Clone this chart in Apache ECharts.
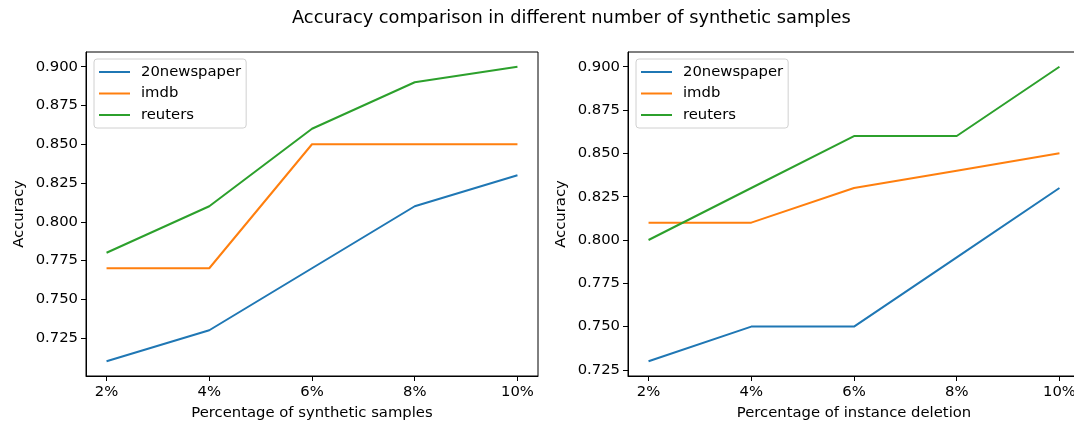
<!DOCTYPE html>
<html>
<head>
<meta charset="utf-8">
<style>
  html, body { margin: 0; padding: 0; background: #fff; }
  #chart { width: 1074px; height: 423px; }
</style>
<script src="https://cdn.jsdelivr.net/npm/echarts@6/dist/echarts.min.js"></script>
</head>
<body>
<div id="chart"></div>
<script>
// Percentages on the x axis (shared by both panels)
const percents = [2, 4, 6, 8, 10];
const seriesNames = ['20newspaper', 'imdb', 'reuters'];
const colors = ['#1f77b4', '#ff7f0e', '#2ca02c'];

// Left panel: synthetic samples
const synthNews = [0.71, 0.73, 0.77, 0.81, 0.83];
const synthImdb = [0.77, 0.77, 0.85, 0.85, 0.85];
const synthReuters = [0.78, 0.81, 0.86, 0.89, 0.90];

// Right panel: instance deletion
const delNews = [0.73, 0.75, 0.75, 0.79, 0.83];
const delImdb = [0.81, 0.81, 0.83, 0.84, 0.85];
const delReuters = [0.80, 0.83, 0.86, 0.86, 0.90];

const yTicks = [0.725, 0.750, 0.775, 0.800, 0.825, 0.850, 0.875, 0.900];

const FONT = 'DejaVu Sans';
const FS = 14.8;

function paddedRange(arrays) {
  const all = [].concat(...arrays);
  const lo = Math.min(...all), hi = Math.max(...all);
  const pad = (hi - lo) * 0.05;
  return [lo - pad, hi + pad];
}

const leftY = paddedRange([synthNews, synthImdb, synthReuters]);
const rightY = paddedRange([delNews, delImdb, delReuters]);
const xPad = (percents[percents.length - 1] - percents[0]) * 0.05;

function xAxis(gridIndex, name) {
  return {
    type: 'value', gridIndex,
    min: percents[0] - xPad, max: percents[percents.length - 1] + xPad,
    name, nameLocation: 'middle', nameGap: 30,
    nameTextStyle: { fontFamily: FONT, fontSize: FS, color: '#000' },
    axisLine: { show: true, lineStyle: { color: '#000', width: 1 } },
    axisTick: { show: true, length: 5, lineStyle: { color: '#000' }, customValues: percents },
    axisLabel: { fontFamily: FONT, fontSize: FS, color: '#000', margin: 9,
      customValues: percents, formatter: v => v + '%' },
    splitLine: { show: false }
  };
}

function yAxis(gridIndex, range) {
  return {
    type: 'value', gridIndex,
    min: range[0], max: range[1],
    name: 'Accuracy', nameLocation: 'middle', nameGap: 59, nameRotate: 90,
    nameTextStyle: { fontFamily: FONT, fontSize: FS, color: '#000' },
    axisLine: { show: true, lineStyle: { color: '#000', width: 1 } },
    axisTick: { show: true, length: 5, lineStyle: { color: '#000' }, customValues: yTicks },
    axisLabel: { fontFamily: FONT, fontSize: FS, color: '#000', margin: 8,
      customValues: yTicks, formatter: v => v.toFixed(3) },
    splitLine: { show: false }
  };
}

function lineSeries(name, values, color, idx) {
  return {
    type: 'line', name, xAxisIndex: idx, yAxisIndex: idx,
    data: values.map((v, i) => [percents[i], v]),
    symbol: 'none', silent: true, animation: false,
    lineStyle: { color, width: 2 }, itemStyle: { color }
  };
}

function legend(left) {
  return {
    orient: 'vertical', left, top: 59,
    data: seriesNames,
    icon: 'rect', itemWidth: 31, itemHeight: 2, itemGap: 5.5,
    padding: [5, 5, 5, 5],
    backgroundColor: '#fff', borderColor: '#d0d0d0', borderWidth: 1, borderRadius: 3,
    textStyle: { fontFamily: FONT, fontSize: FS, color: '#000', lineHeight: 16, padding: [0, 0, 0, 6] },
    selectedMode: false
  };
}

function grid(left) {
  return {
    left, top: 52, width: 452, height: 324,
    outerBoundsMode: 'none', containLabel: false,
    show: true, borderColor: '#000', borderWidth: 1, backgroundColor: 'transparent'
  };
}

const chart = echarts.init(document.getElementById('chart'), null, { renderer: 'canvas' });
chart.setOption({
  animation: false,
  title: {
    text: 'Accuracy comparison in different number of synthetic samples',
    left: 287, top: 4,
    textStyle: { fontFamily: FONT, fontSize: 17.8, fontWeight: 'normal', color: '#000' }
  },
  grid: [grid(86), grid(628)],
  xAxis: [xAxis(0, 'Percentage of synthetic samples'), xAxis(1, 'Percentage of instance deletion')],
  yAxis: [yAxis(0, leftY), yAxis(1, rightY)],
  legend: [legend(94), legend(636)],
  series: [
    lineSeries(seriesNames[0], synthNews, colors[0], 0),
    lineSeries(seriesNames[1], synthImdb, colors[1], 0),
    lineSeries(seriesNames[2], synthReuters, colors[2], 0),
    lineSeries(seriesNames[0], delNews, colors[0], 1),
    lineSeries(seriesNames[1], delImdb, colors[1], 1),
    lineSeries(seriesNames[2], delReuters, colors[2], 1)
  ]
});
</script>
</body>
</html>
